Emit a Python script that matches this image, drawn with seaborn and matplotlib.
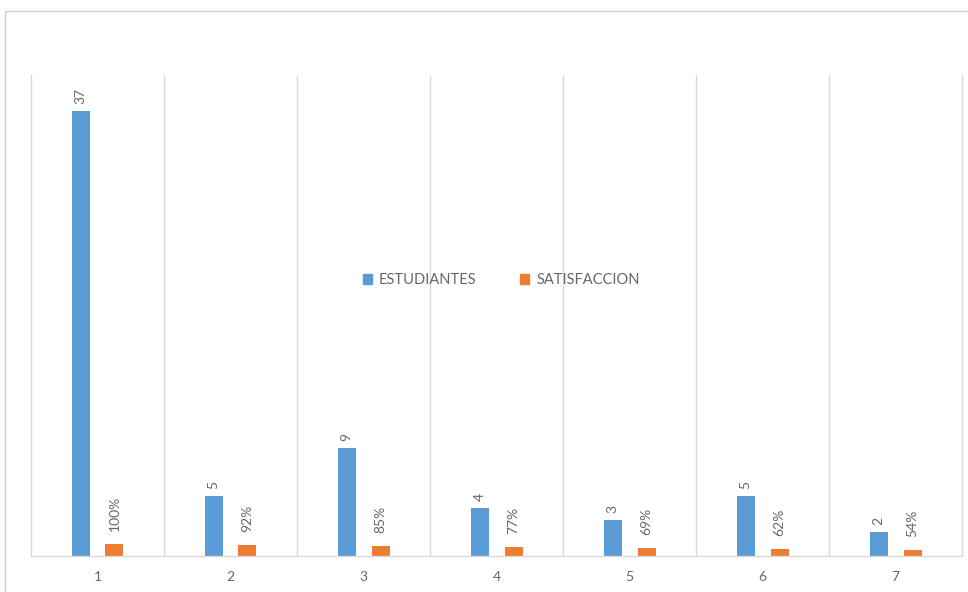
import numpy as np
import pandas as pd
import matplotlib
matplotlib.use('Agg')
import matplotlib.pyplot as plt
import matplotlib.patches as mpatches
import seaborn as sns

# --- Data ---
categorias = ['1', '2', '3', '4', '5', '6', '7']
estudiantes = [37, 5, 9, 4, 3, 5, 2]
satisfaccion = [1.00, 0.92, 0.85, 0.77, 0.69, 0.62, 0.54]
series = ['ESTUDIANTES', 'SATISFACCION']

# --- Styling ---
AZUL = '#5B9BD5'
NARANJA = '#ED7D31'
GRIS_TEXTO = '#666666'
GRIS_LINEA = '#D9D9D9'

sns.set_style('white')
plt.rcParams['font.family'] = ['Lato', 'DejaVu Sans']

df = pd.DataFrame({
    'categoria': categorias * 2,
    'valor': estudiantes + satisfaccion,
    'serie': [series[0]] * len(categorias) + [series[1]] * len(categorias),
})

fig = plt.figure(figsize=(9.68, 5.92), dpi=100)
ax = fig.add_axes([0.032, 0.0608, 0.962, 0.8122])

sns.barplot(data=df, x='categoria', y='valor', hue='serie', hue_order=series,
            order=categorias, palette=[AZUL, NARANJA], saturation=1,
            width=0.51, gap=0.47, linewidth=0, legend=False, ax=ax)

# Data labels, rotated like the original
ax.bar_label(ax.containers[0], labels=[str(v) for v in estudiantes],
             rotation=90, padding=5, color=GRIS_TEXTO, fontsize=10)
ax.bar_label(ax.containers[1], labels=[f'{round(v * 100)}%' for v in satisfaccion],
             rotation=90, padding=9, color=GRIS_TEXTO, fontsize=10)

ax.set_ylim(0, 40)
ax.set_xlim(-0.5, len(categorias) - 0.5)
ax.set_xlabel('')
ax.set_ylabel('')
ax.set_yticks([])
ax.tick_params(axis='x', length=0, colors=GRIS_TEXTO, labelsize=10, pad=11)

# Vertical separators between categories
ax.set_xticks(np.arange(0.5, len(categorias) - 1), minor=True)
ax.tick_params(axis='x', which='minor', length=0)
ax.grid(axis='x', which='minor', color=GRIS_LINEA, lw=1)
ax.grid(axis='x', which='major', visible=False)
ax.set_axisbelow(True)
for side in ['left', 'right', 'bottom']:
    ax.spines[side].set_color(GRIS_LINEA)
    ax.spines[side].set_linewidth(1)
ax.spines['top'].set_visible(False)

# Legend in the middle of the plot
handles = [mpatches.Patch(color=AZUL, label=series[0]),
           mpatches.Patch(color=NARANJA, label=series[1])]
ax.legend(handles=handles, loc='center', bbox_to_anchor=(0.505, 0.574), ncol=2,
          frameon=False, fontsize=10.5, labelcolor=GRIS_TEXTO,
          handlelength=0.6, handleheight=0.6, handletextpad=0.5, columnspacing=3.0)

# Outer chart frame
fig.patches.append(mpatches.Rectangle((0.0052, -0.1), 1.2, 1.081, transform=fig.transFigure,
                                      fill=False, edgecolor='#D0D0D0', lw=1))

plt.savefig('out.png', dpi=100, facecolor='white')
plt.close()
